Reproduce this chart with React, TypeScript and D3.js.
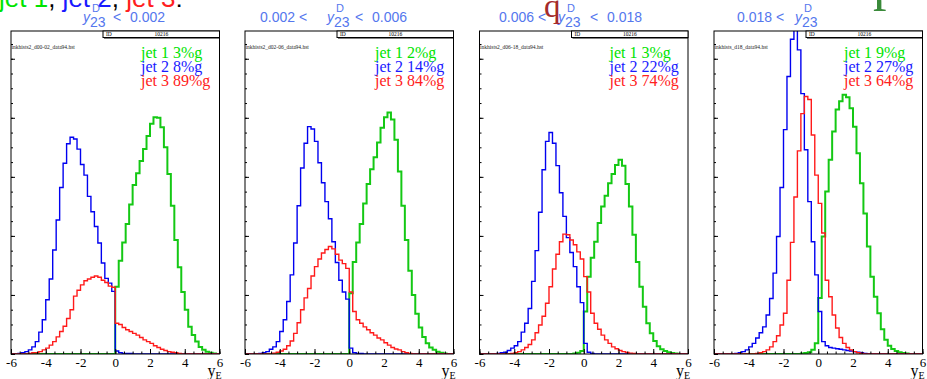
import React, { useEffect, useRef } from 'react';
import * as d3 from 'd3';

// y_E histograms, 0.2 wide bins on [-6, 6]; heights in y-axis major-tick units
const BIN = 0.2;

const panelIds = ['d00-02', 'd02-06', 'd06-18', 'd18'];
const fileNames = [
    'inkhists2_d00-02_data94.hst',
    'inkhists2_d02-06_data94.hst',
    'inkhists2_d06-18_data94.hst',
    'inkhists_d18_data94.hst',
];
const cutLow = [null, '0.002', '0.006', '0.018'];
const cutHigh = ['0.002', '0.006', '0.018', null];
const histId = '10216';

// gluon fractions per jet, per panel
const jet1Frac = [3, 2, 3, 9];
const jet2Frac = [8, 14, 22, 27];
const jet3Frac = [89, 84, 74, 64];

const xTickLabels = ['-6', '-4', '-2', '0', '2', '4', '6'];

// first bin lower edge + bin contents
const jet1Start = [0, 0, -0.6, -1.0];
const jet1Bins = [
    [1.14, 1.58, 1.89, 2.20, 2.53, 2.86, 3.06, 3.27, 3.47, 3.69, 3.90, 4.01, 4.00, 3.84, 3.50, 3.05, 2.51, 1.93, 1.47, 1.05,
        0.75, 0.46, 0.32, 0.21, 0.12, 0.07, 0.04, 0.02, 0.01],
    [1.03, 1.56, 1.89, 2.20, 2.55, 2.88, 3.13, 3.33, 3.58, 3.83, 4.01, 4.09, 3.97, 3.63, 3.09, 2.51, 1.93, 1.41, 1.00, 0.68,
        0.45, 0.29, 0.18, 0.11, 0.07, 0.04, 0.02, 0.01],
    [0.01, 0.02, 0.05, 0.72, 1.31, 1.63, 1.90, 2.22, 2.50, 2.68, 2.89, 3.05, 3.20, 3.29, 3.19, 2.88, 2.50, 2.02, 1.56, 1.14,
        0.80, 0.52, 0.35, 0.22, 0.13, 0.08, 0.05, 0.03, 0.015, 0.01],
    [0.01, 0.015, 0.03, 0.07, 0.18, 0.95, 1.99, 2.75, 3.29, 3.77, 4.14, 4.28, 4.39, 4.35, 4.16, 3.85, 3.40, 2.89, 2.38, 1.82,
        1.31, 0.97, 0.69, 0.42, 0.24, 0.14, 0.085, 0.05, 0.03, 0.015, 0.01],
];

const jet2Start = [-5.6, -5.2, -5.0, -4.8];
const jet2Bins = [
    [0.01, 0.02, 0.04, 0.07, 0.12, 0.21, 0.37, 0.58, 0.92, 1.27, 1.76, 2.27, 2.82, 3.23, 3.56, 3.67, 3.64, 3.47, 3.21, 3.03,
        2.67, 2.41, 2.16, 1.88, 1.54, 1.28, 1.20, 1.06, 0.05, 0.02, 0.01, 0.01, 0.01],
    [0.01, 0.02, 0.04, 0.08, 0.12, 0.21, 0.38, 0.58, 0.89, 1.34, 1.88, 2.51, 3.15, 3.57, 3.85, 3.81, 3.60, 3.24, 2.90, 2.58,
        2.29, 1.90, 1.55, 1.25, 1.05, 0.93, 0.10, 0.02, 0.01, 0.01],
    [0.01, 0.02, 0.03, 0.06, 0.10, 0.14, 0.21, 0.37, 0.52, 0.77, 1.23, 1.75, 2.40, 3.12, 3.60, 3.75, 3.57, 3.19, 2.73, 2.33,
        1.97, 1.72, 1.48, 1.14, 0.87, 0.18, 0.03, 0.01],
    [0.01, 0.02, 0.04, 0.07, 0.12, 0.18, 0.27, 0.36, 0.46, 0.66, 0.94, 1.37, 1.99, 2.82, 3.80, 4.70, 5.33, 5.50, 5.15, 4.41,
        3.46, 2.58, 1.90, 1.34, 0.72, 0.21, 0.14, 0.11, 0.10, 0.09, 0.08, 0.07, 0.06, 0.05, 0.04, 0.03, 0.02, 0.01],
];

const jet3Start = [-5.0, -4.4, -4.2, -3.6];
const jet3Bins = [
    [0.01, 0.02, 0.02, 0.04, 0.07, 0.10, 0.15, 0.21, 0.29, 0.38, 0.47, 0.60, 0.75, 0.98, 1.08, 1.17, 1.24, 1.27, 1.30, 1.32,
        1.30, 1.25, 1.21, 1.15, 1.13, 0.52, 0.50, 0.45, 0.41, 0.38, 0.35, 0.32, 0.28, 0.24, 0.21, 0.18, 0.14, 0.11, 0.08, 0.06,
        0.04, 0.03, 0.02, 0.01],
    [0.015, 0.03, 0.05, 0.08, 0.14, 0.22, 0.35, 0.53, 0.75, 0.95, 1.11, 1.32, 1.48, 1.61, 1.71, 1.77, 1.82, 1.78, 1.69, 1.59,
        1.53, 1.45, 1.05, 0.72, 0.58, 0.52, 0.46, 0.41, 0.36, 0.32, 0.27, 0.24, 0.19, 0.15, 0.11, 0.085, 0.07, 0.04, 0.02, 0.01],
    [0.01, 0.02, 0.04, 0.07, 0.11, 0.16, 0.24, 0.36, 0.49, 0.64, 0.86, 1.14, 1.44, 1.69, 1.90, 2.03, 2.02, 1.93, 1.85, 1.73,
        1.61, 1.31, 1.05, 0.69, 0.52, 0.42, 0.32, 0.24, 0.18, 0.12, 0.09, 0.06, 0.04, 0.025, 0.015, 0.01],
    [0.01, 0.02, 0.04, 0.07, 0.12, 0.21, 0.31, 0.49, 0.69, 1.25, 1.89, 2.66, 3.44, 4.07, 4.36, 4.31, 3.71, 3.03, 2.55, 2.05,
        1.25, 0.97, 0.66, 0.44, 0.28, 0.18, 0.11, 0.07, 0.04, 0.02, 0.01],
];

// layout
const W = 927, H = 379;
const panelLeft = [11, 245, 479.5, 714];
const plotW = 208.5;
const plotTop = 31, plotBottom = 354;
const yMax = 5.47;
const titleLowX = [null, 260, 499, 737];
const titleYX = [83, 327, 558, 795];
const titleHighX = [113, 355, 590, null];

const GREEN_LINE = '#14c814', BLUE_LINE = '#0000f0', RED_LINE = '#ff1a1a';
const GREEN_TXT = '#00e400', BLUE_TXT = '#1a1aff', RED_TXT = '#ff2020';
const TITLE_BLUE = '#5577ee';
const SERIF = '"Liberation Serif", "Times New Roman", serif';
const SANS = '"Liberation Sans", Arial, sans-serif';

const fullBins = (start: number, vals: number[]) => {
    const bins = new Array(60).fill(0);
    const i0 = Math.round((start + 6) / BIN);
    vals.forEach((v, i) => { if (i0 + i < 60) bins[i0 + i] = v; });
    return bins;
};

const App = () => {
    const ref = useRef(null);

    useEffect(() => {
        const svg = d3.select(ref.current);
        svg.selectAll('*').remove();

        // headline, mostly cut off at the top
        const head = svg.append('text').attr('x', -1).attr('y', 7)
            .style('font-family', SANS).style('font-size', '26px');
        [['jet 1', GREEN_TXT], [', ', '#000'], ['jet 2', BLUE_TXT], [', ', '#000'], ['jet 3', RED_TXT], [':', '#000']]
            .forEach(([t, c]) => head.append('tspan').attr('fill', c).text(t));

        panelIds.forEach((pid, p) => {
            const left = panelLeft[p];
            const x = d3.scaleLinear().domain([-6, 6]).range([left, left + plotW]);
            const y = d3.scaleLinear().domain([0, yMax]).range([plotBottom, plotTop]);
            const g = svg.append('g').attr('class', `panel-${pid}`);

            g.append('clipPath').attr('id', `clip-${p}`)
                .append('rect').attr('x', left).attr('y', plotTop).attr('width', plotW).attr('height', plotBottom - plotTop);

            // title
            const t = g.append('g').attr('fill', TITLE_BLUE).style('font-family', SANS).style('font-size', '14px');
            if (cutLow[p]) t.append('text').attr('x', titleLowX[p]).attr('y', 21.5).text(`${cutLow[p]} <`);
            const yx = titleYX[p];
            t.append('text').attr('x', yx).attr('y', 21.5).style('font-style', 'italic').text('y');
            t.append('text').attr('x', yx + 9).attr('y', 12).style('font-size', '11px').text('D');
            t.append('text').attr('x', yx + 7).attr('y', 26.5).text('23');
            if (cutHigh[p]) {
                t.append('text').attr('x', titleHighX[p]).attr('y', 21.5).text('<');
                t.append('text').attr('x', titleHighX[p] + 17).attr('y', 21.5).text(cutHigh[p]);
            }

            // histograms
            const line = d3.line().x(d => d[0]).y(d => d[1]);
            const series = [
                [jet1Start[p], jet1Bins[p], GREEN_LINE, 2],
                [jet2Start[p], jet2Bins[p], BLUE_LINE, 1.4],
                [jet3Start[p], jet3Bins[p], RED_LINE, 1.4],
            ];
            series.forEach(([start, vals, color, w]) => {
                const bins = fullBins(start, vals);
                const pts = [[x(-6), y(0)]];
                bins.forEach((v, i) => {
                    const e0 = -6 + i * BIN;
                    pts.push([x(e0), y(v)], [x(e0 + BIN), y(v)]);
                });
                pts.push([x(6), y(0)]);
                g.append('path').attr('d', line(pts)).attr('fill', 'none')
                    .attr('stroke', color).attr('stroke-width', w)
                    .attr('clip-path', `url(#clip-${p})`);
            });

            // frame
            g.append('rect').attr('x', left).attr('y', plotTop).attr('width', plotW).attr('height', plotBottom - plotTop)
                .attr('fill', 'none').attr('stroke', '#000').attr('stroke-width', 1);

            // x axis
            const xMajor = d3.axisBottom(x).tickValues(d3.range(-6, 6.01, 2)).tickSize(-5).tickPadding(4)
                .tickFormat((d, i) => xTickLabels[i]);
            const xa = g.append('g').attr('transform', `translate(0,${plotBottom})`).call(xMajor);
            xa.select('.domain').remove();
            xa.selectAll('text').style('font-family', SERIF).style('font-size', '13px').attr('fill', '#000');
            const xMinor = d3.axisBottom(x).tickValues(d3.range(-6, 6.01, 0.5)).tickSize(-2.5).tickFormat(() => '');
            g.append('g').attr('transform', `translate(0,${plotBottom})`).call(xMinor).select('.domain').remove();

            // y axis (no labels)
            const yMajor = d3.axisLeft(y).tickValues(d3.range(0, 5.01, 1)).tickSize(-4).tickFormat(() => '');
            g.append('g').attr('transform', `translate(${left},0)`).call(yMajor).select('.domain').remove();
            const yMinor = d3.axisLeft(y).tickValues(d3.range(0, yMax, 0.25)).tickSize(-2).tickFormat(() => '');
            g.append('g').attr('transform', `translate(${left},0)`).call(yMinor).select('.domain').remove();

            // axis title
            const xt = g.append('text').attr('x', left + plotW - 12).attr('y', 376)
                .style('font-family', SERIF).style('font-size', '16px');
            xt.append('tspan').text('y');
            xt.append('tspan').attr('dy', 3).style('font-size', '10px').text('E');

            // ID box
            const bx = left + 92;
            g.append('rect').attr('x', bx).attr('y', plotTop).attr('width', left + plotW - bx).attr('height', 6.5)
                .attr('fill', '#fff').attr('stroke', '#000').attr('stroke-width', 1);
            g.append('line').attr('x1', bx + 1).attr('x2', left + plotW).attr('y1', plotTop + 7).attr('y2', plotTop + 7)
                .attr('stroke', '#000').attr('stroke-width', 1.2);
            g.append('text').attr('x', bx + 3).attr('y', plotTop + 5).attr('fill', '#000')
                .style('font-family', SERIF).style('font-size', '5.5px').text('ID');
            g.append('text').attr('x', (bx + left + plotW) / 2).attr('y', plotTop + 5).attr('text-anchor', 'middle')
                .attr('fill', '#000').style('font-family', SERIF).style('font-size', '5.5px').text(histId);

            // file name
            g.append('text').attr('x', left + 0.5).attr('y', 49).attr('fill', '#222')
                .style('font-family', SERIF).style('font-size', '5.5px').text(fileNames[p]);

            // legend
            const leg = [[1, jet1Frac[p], GREEN_TXT], [2, jet2Frac[p], BLUE_TXT], [3, jet3Frac[p], RED_TXT]];
            leg.forEach(([n, f, c], i) => {
                g.append('text').attr('x', left + 130).attr('y', 57.5 + i * 14).attr('fill', c)
                    .style('font-family', SERIF).style('font-size', '16px').text(`jet ${n} ${f}%g`);
            });
        });

        // stray large glyphs overprinted at the top
        svg.append('text').attr('x', 544).attr('y', 17).attr('fill', '#a52a2a')
            .style('font-family', SERIF).style('font-size', '33px').text('q');
        svg.append('text').attr('x', 873).attr('y', -1).attr('fill', '#3a8a3a')
            .style('font-family', SERIF).style('font-size', '54px').text('p');
    }, []);

    return (
        <svg ref={ref} width={W} height={H}
            style={{ position: 'absolute', left: 0, top: 0, background: '#fff' }} />
    );
};

export default App;
